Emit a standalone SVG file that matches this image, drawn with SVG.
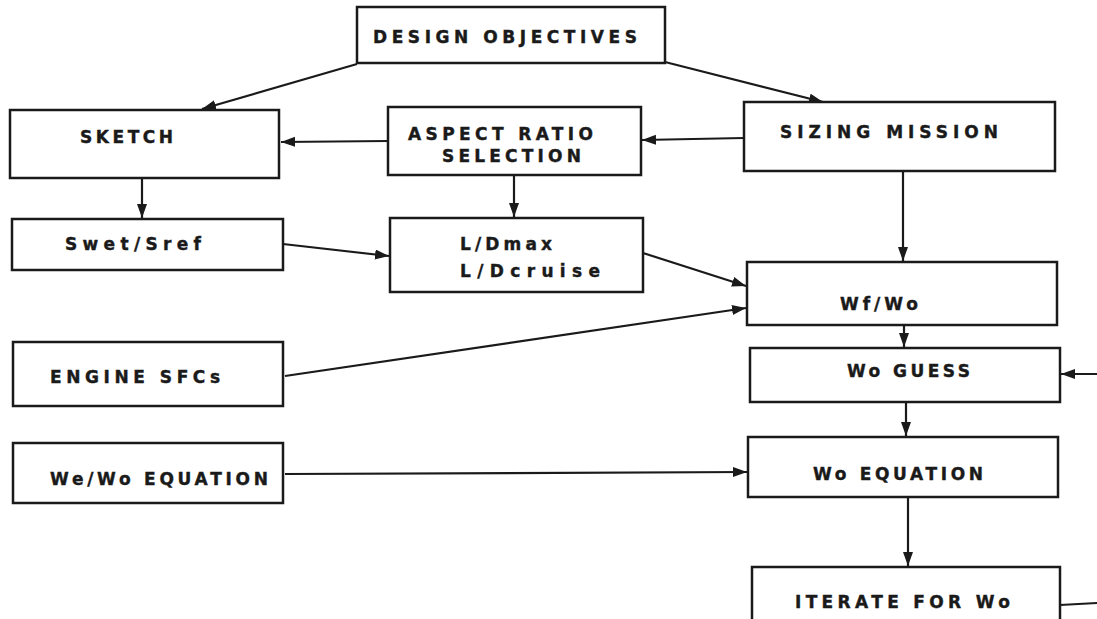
<svg xmlns="http://www.w3.org/2000/svg" width="1097" height="619" viewBox="0 0 1097 619">
  <style>
    .box { fill: #ffffff; stroke: #1a1a1a; stroke-width: 2.5; }
    .lbl { font-family: "DejaVu Sans", "Liberation Sans", sans-serif; font-weight: bold; font-size: 17px; fill: #1a1a1a; stroke: #1a1a1a; stroke-width: 0.4; }
    .conn { fill: none; stroke: #1a1a1a; stroke-width: 2.2; marker-end: url(#arrow); }
    .plain { fill: none; stroke: #1a1a1a; stroke-width: 2.2; }
  </style>
  <defs>
    <marker id="arrow" markerUnits="userSpaceOnUse" markerWidth="15" markerHeight="11" refX="14" refY="5" orient="auto">
      <path d="M0,0 L14,5 L0,10 Z" fill="#1a1a1a"/>
    </marker>
  </defs>
  <rect width="1097" height="619" fill="#ffffff"/>

  <g id="connectors">
    <line class="conn" x1="357" y1="64" x2="202" y2="109"/>
    <line class="conn" x1="665" y1="62" x2="823" y2="102"/>
    <line class="conn" x1="388" y1="141" x2="281" y2="142"/>
    <line class="conn" x1="744" y1="138" x2="642" y2="140"/>
    <line class="conn" x1="142" y1="178" x2="142" y2="218"/>
    <line class="conn" x1="514" y1="175" x2="514" y2="217"/>
    <line class="conn" x1="283" y1="244" x2="389" y2="256"/>
    <line class="conn" x1="643" y1="253" x2="746" y2="286"/>
    <line class="conn" x1="285" y1="376" x2="746" y2="308"/>
    <line class="conn" x1="903" y1="171" x2="903" y2="261"/>
    <line class="conn" x1="904" y1="325" x2="904" y2="347"/>
    <line class="conn" x1="285" y1="474" x2="747" y2="472"/>
    <line class="conn" x1="906" y1="402" x2="906" y2="436"/>
    <line class="conn" x1="908" y1="497" x2="908" y2="566"/>
    <line class="conn" x1="1097" y1="374" x2="1061" y2="374"/>
    <line class="plain" x1="1060" y1="605" x2="1097" y2="603"/>
  </g>

  <g id="design-objectives">
    <rect class="box" x="357" y="7" width="308" height="56"/>
    <text class="lbl" x="373" y="43" textLength="264" lengthAdjust="spacing">DESIGN OBJECTIVES</text>
  </g>
  <g id="sketch">
    <rect class="box" x="10" y="110" width="269" height="68"/>
    <text class="lbl" x="80" y="143" textLength="93" lengthAdjust="spacing">SKETCH</text>
  </g>
  <g id="swet-sref">
    <rect class="box" x="12" y="219" width="271" height="51"/>
    <text class="lbl" x="65" y="250" textLength="136" lengthAdjust="spacing">Swet/Sref</text>
  </g>
  <g id="aspect-ratio">
    <rect class="box" x="388" y="107" width="253" height="68"/>
    <text class="lbl" x="408" y="140" textLength="185" lengthAdjust="spacing">ASPECT RATIO</text>
    <text class="lbl" x="442" y="162" textLength="139" lengthAdjust="spacing">SELECTION</text>
  </g>
  <g id="lift-drag">
    <rect class="box" x="390" y="218" width="253" height="74"/>
    <text class="lbl" x="460" y="250" textLength="92" lengthAdjust="spacing">L/Dmax</text>
    <text class="lbl" x="460" y="277" textLength="140" lengthAdjust="spacing">L/Dcruise</text>
  </g>
  <g id="sizing-mission">
    <rect class="box" x="744" y="102" width="311" height="69"/>
    <text class="lbl" x="780" y="138" textLength="218" lengthAdjust="spacing">SIZING MISSION</text>
  </g>
  <g id="fuel-fraction">
    <rect class="box" x="747" y="262" width="310" height="63"/>
    <text class="lbl" x="840" y="310" textLength="78" lengthAdjust="spacing">Wf/Wo</text>
  </g>
  <g id="engine-sfcs">
    <rect class="box" x="13" y="342" width="270" height="64"/>
    <text class="lbl" x="50" y="383" textLength="170" lengthAdjust="spacing">ENGINE SFCs</text>
  </g>
  <g id="empty-weight-eq">
    <rect class="box" x="13" y="443" width="270" height="60"/>
    <text class="lbl" x="50" y="485" textLength="218" lengthAdjust="spacing">We/Wo EQUATION</text>
  </g>
  <g id="wo-guess">
    <rect class="box" x="750" y="348" width="310" height="54"/>
    <text class="lbl" x="847" y="377" textLength="123" lengthAdjust="spacing">Wo GUESS</text>
  </g>
  <g id="wo-equation">
    <rect class="box" x="748" y="437" width="310" height="60"/>
    <text class="lbl" x="813" y="480" textLength="170" lengthAdjust="spacing">Wo EQUATION</text>
  </g>
  <g id="iterate">
    <rect class="box" x="752" y="567" width="308" height="70"/>
    <text class="lbl" x="795" y="608" textLength="215" lengthAdjust="spacing">ITERATE FOR Wo</text>
  </g>
</svg>
